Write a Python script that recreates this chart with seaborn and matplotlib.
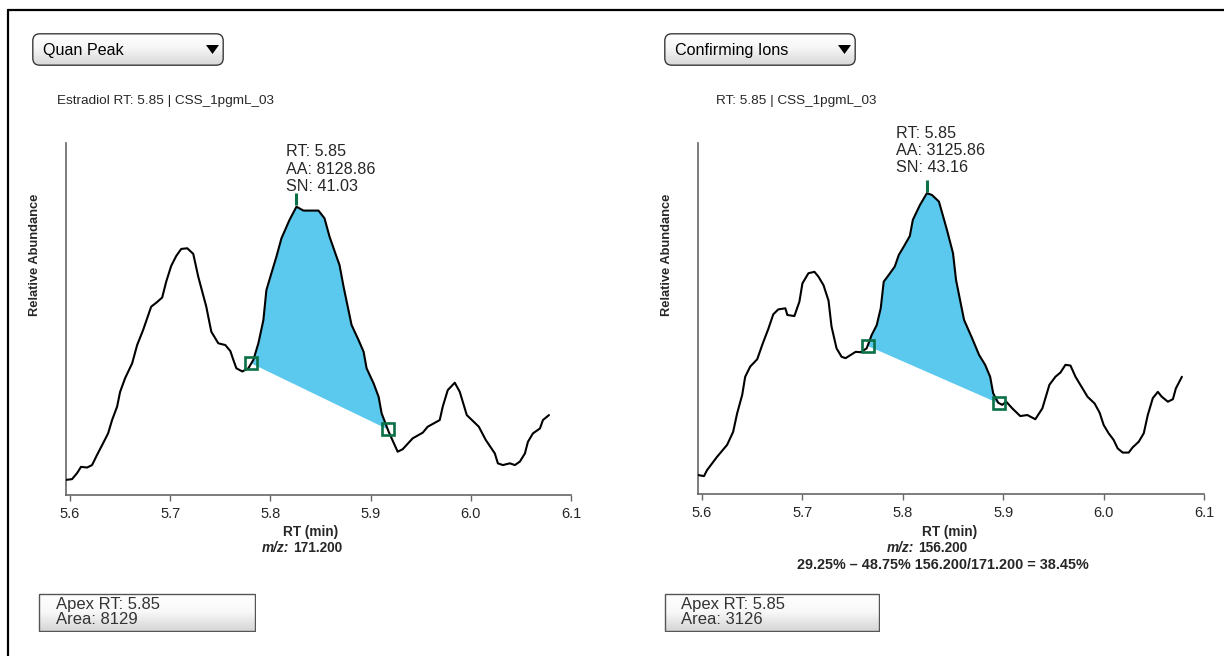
import numpy as np
import matplotlib
matplotlib.use("Agg")
import matplotlib.pyplot as plt
import seaborn as sns
import pandas as pd
from matplotlib.patches import FancyBboxPatch, Rectangle, Polygon
from matplotlib.lines import Line2D
from matplotlib.colors import LinearSegmentedColormap

# ---------------- data ----------------
quan_rt = [5.596, 5.602, 5.607, 5.611, 5.617, 5.622, 5.627, 5.633, 5.638, 5.642,
           5.647, 5.650, 5.655, 5.662, 5.667, 5.673, 5.681, 5.686, 5.692, 5.696,
           5.701, 5.706, 5.711, 5.717, 5.723, 5.728, 5.736, 5.741, 5.748, 5.755,
           5.760, 5.763, 5.766, 5.772, 5.778, 5.783, 5.788, 5.793, 5.796, 5.801,
           5.806, 5.811, 5.819, 5.826, 5.833, 5.848, 5.854, 5.859, 5.866, 5.869,
           5.873, 5.881, 5.888, 5.893, 5.896, 5.903, 5.908, 5.911, 5.918, 5.927,
           5.932, 5.942, 5.952, 5.957, 5.964, 5.969, 5.972, 5.977, 5.984, 5.989,
           5.996, 6.008, 6.015, 6.024, 6.027, 6.032, 6.039, 6.044, 6.049, 6.054,
           6.057, 6.062, 6.069, 6.072, 6.078]
quan_abund = [4.3, 4.5, 6.2, 8.0, 7.8, 8.5, 11.4, 14.7, 17.5, 21.3,
              25.1, 29.3, 33.2, 37.4, 42.6, 46.9, 53.5, 54.6, 56.1, 60.6,
              65.1, 67.9, 69.9, 70.1, 68.5, 62.0, 53.5, 46.4, 43.1, 42.6,
              40.9, 38.4, 36.0, 35.1, 36.0, 38.4, 43.1, 49.7, 58.2, 63.0,
              67.7, 72.9, 78.1, 81.9, 80.8, 80.8, 78.6, 73.4, 67.7, 65.3,
              59.2, 48.3, 44.0, 40.7, 36.0, 31.7, 27.9, 23.2, 18.0, 12.3,
              13.0, 16.1, 17.7, 19.4, 20.5, 21.3, 25.1, 29.8, 31.9, 29.3,
              22.7, 19.4, 15.6, 11.8, 9.0, 8.5, 9.0, 8.5, 9.5, 11.8,
              15.1, 17.5, 18.9, 21.3, 22.7]

conf_rt = [5.596, 5.602, 5.605, 5.610, 5.615, 5.620, 5.625, 5.631, 5.635, 5.640,
           5.643, 5.648, 5.655, 5.660, 5.666, 5.671, 5.676, 5.683, 5.685, 5.692,
           5.697, 5.700, 5.706, 5.712, 5.716, 5.721, 5.726, 5.729, 5.734, 5.739,
           5.743, 5.748, 5.753, 5.758, 5.764, 5.769, 5.774, 5.778, 5.781, 5.786,
           5.792, 5.796, 5.801, 5.807, 5.810, 5.817, 5.824, 5.829, 5.836, 5.844,
           5.850, 5.853, 5.861, 5.869, 5.876, 5.882, 5.887, 5.890, 5.895, 5.899,
           5.903, 5.909, 5.917, 5.924, 5.932, 5.939, 5.946, 5.952, 5.957, 5.962,
           5.967, 5.972, 5.984, 5.991, 5.996, 6.000, 6.005, 6.010, 6.014, 6.019,
           6.025, 6.029, 6.035, 6.040, 6.044, 6.049, 6.054, 6.058, 6.064, 6.069,
           6.072, 6.078]
conf_abund = [5.4, 5.1, 6.8, 8.7, 10.6, 12.3, 14.0, 17.7, 23.0, 28.2,
              33.4, 36.3, 38.4, 42.5, 47.0, 51.2, 52.6, 52.9, 51.0, 50.7,
              54.8, 60.0, 62.9, 63.3, 61.9, 59.5, 55.1, 47.7, 41.5, 39.1,
              38.7, 39.6, 40.5, 40.4, 41.5, 45.3, 48.1, 52.9, 60.5, 62.4,
              64.8, 68.1, 70.5, 73.5, 78.1, 82.3, 85.7, 85.2, 83.3, 75.2,
              68.6, 61.0, 49.6, 44.4, 39.6, 36.8, 33.4, 28.7, 26.0, 25.4,
              26.3, 24.4, 22.2, 22.5, 21.3, 24.4, 31.1, 33.4, 34.6, 36.8,
              36.6, 33.4, 27.7, 25.8, 23.2, 19.7, 17.3, 15.4, 13.0, 11.8,
              11.8, 13.3, 14.9, 17.3, 22.5, 27.3, 29.1, 27.7, 26.3, 27.0,
              30.1, 33.4]

peak_bounds = [(5.781, 5.917), (5.765, 5.896)]
x_ticks = [5.6, 5.7, 5.8, 5.9, 6.0, 6.1]
x_tick_labels = ["5.6", "5.7", "5.8", "5.9", "6.0", "6.1"]
dropdown_labels = ["Quan Peak", "Confirming Ions"]
subtitles = ["Estradiol RT: 5.85 | CSS_1pgmL_03", "RT: 5.85 | CSS_1pgmL_03"]
peak_rt_text = ["RT: 5.85", "RT: 5.85"]
peak_aa_text = ["AA: 8128.86", "AA: 3125.86"]
peak_sn_text = ["SN: 41.03", "SN: 43.16"]
mz_values = ["171.200", "156.200"]
ratio_text = "29.25% \u2013 48.75% 156.200/171.200 = 38.45%"
apex_texts = ["Apex RT: 5.85", "Apex RT: 5.85"]
area_texts = ["Area: 8129", "Area: 3126"]

# ---------------- style ----------------
sns.set_style("white")
plt.rcParams['font.family'] = ['Liberation Sans', 'DejaVu Sans']

W, H = 1224, 656
fig = plt.figure(figsize=(W / 100, H / 100), dpi=100)
fig.patch.set_facecolor('white')

FILL = '#5BC9EE'
GREEN = '#0B7045'
AXC = '#666666'


def fx(x):
    return x / W


def fy(y):
    return 1 - y / H


def gradient_box(x0, y0, x1, y1, rounding, stops, edge='#444444', lw=1.0):
    w, h = x1 - x0, y1 - y0
    bax = fig.add_axes([fx(x0), fy(y1), w / W, h / H])
    bax.set_xlim(0, w)
    bax.set_ylim(0, h)
    bax.axis('off')
    cmap = LinearSegmentedColormap.from_list('g', stops)
    grad = np.linspace(0, 1, 128).reshape(-1, 1)
    im = bax.imshow(grad, extent=[0, w, 0, h], origin='lower', aspect='auto',
                    cmap=cmap, vmin=0, vmax=1)
    if rounding > 0:
        patch = FancyBboxPatch((0.8, 0.8), w - 1.6, h - 1.6,
                               boxstyle=f"round,pad=0,rounding_size={rounding}",
                               fc='none', ec=edge, lw=lw)
    else:
        patch = Rectangle((0.6, 0.6), w - 1.2, h - 1.2, fc='none', ec=edge, lw=lw)
    bax.add_patch(patch)
    im.set_clip_path(patch)
    return bax, w, h


# outer frame (top and left lines)
fig.add_artist(Line2D([fx(8), fx(W)], [fy(9.5), fy(9.5)], color='black', lw=1.6))
fig.add_artist(Line2D([fx(8), fx(8)], [fy(9.5), fy(H)], color='black', lw=1.6))

panels = [
    dict(rt=quan_rt, ab=quan_abund, ax=[66, 571, 143, 495], btn=(32, 224), sub_x=57,
         ann_x=286, ann_y=152, ylab_x=35, xlab_c=311, mz_split=(289, 293), box=(38, 256),
         box_tx=56),
    dict(rt=conf_rt, ab=conf_abund, ax=[698, 1204, 143, 494], btn=(664, 856), sub_x=716,
         ann_x=896, ann_y=133, ylab_x=667, xlab_c=950, mz_split=(914, 918), box=(664, 880),
         box_tx=681),
]

for i, p in enumerate(panels):
    x0, x1, yt, yb = p['ax']
    ax = fig.add_axes([fx(x0), fy(yb), (x1 - x0) / W, (yb - yt) / H])
    rt = np.array(p['rt'])
    ab = np.array(p['ab'])
    df = pd.DataFrame({'RT': rt, 'Abundance': ab})

    # integrated peak area
    s, e = peak_bounds[i]
    inner = rt[(rt > s) & (rt < e)]
    xs = np.concatenate([[s], inner, [e]])
    ys_curve = np.interp(xs, rt, ab)
    ys_base = np.interp(xs, [s, e], [np.interp(s, rt, ab), np.interp(e, rt, ab)])
    ax.fill_between(xs, ys_base, ys_curve, color=FILL, lw=0, zorder=1)

    sns.lineplot(data=df, x='RT', y='Abundance', ax=ax, color='black', linewidth=1.5,
                 sort=False, estimator=None, zorder=3)

    # boundary markers
    ax.plot([s, e], [np.interp(s, rt, ab), np.interp(e, rt, ab)], ls='none', marker='s',
            markersize=9.2, markerfacecolor='none', markeredgecolor=GREEN,
            markeredgewidth=1.9, zorder=4)

    # apex tick
    apex_i = int(np.argmax(ab))
    ax.vlines(rt[apex_i], ab[apex_i] + 0.4, ab[apex_i] + 3.8, color=GREEN, lw=2.2, zorder=4)

    ax.set_xlim(5.596, 6.1)
    ax.set_ylim(0, 100)
    ax.set_xticks(x_ticks)
    ax.set_xticklabels(x_tick_labels)
    ax.set_yticks([])
    ax.set_xlabel('')
    ax.set_ylabel('')
    for sp in ['top', 'right']:
        ax.spines[sp].set_visible(False)
    for sp in ['left', 'bottom']:
        ax.spines[sp].set_color(AXC)
        ax.spines[sp].set_linewidth(1.2)
    ax.tick_params(axis='x', direction='out', length=4, width=1, color=AXC,
                   labelsize=10.5, pad=4.5, bottom=True)
    ax.patch.set_alpha(0)

    # dropdown button
    bx0, bx1 = p['btn']
    bax, bw, bh = gradient_box(bx0, 33, bx1, 66, 7,
                               [(0, '#d6d6d6'), (0.55, '#f6f6f6'), (1, '#ffffff')],
                               edge='#3a3a3a', lw=1.0)
    bax.text(11, bh / 2 - 1.5, dropdown_labels[i], fontsize=11.6, va='center', ha='left',
             color='black')
    bax.add_patch(Polygon([(bw - 18, 21), (bw - 5, 21), (bw - 11.5, 12)], closed=True,
                          fc='black', ec='none'))

    # subtitle
    fig.text(fx(p['sub_x']), fy(101), subtitles[i], fontsize=9.7, va='center', ha='left')

    # peak annotation
    for k, t in enumerate([peak_rt_text[i], peak_aa_text[i], peak_sn_text[i]]):
        fig.text(fx(p['ann_x']), fy(p['ann_y'] + 17.3 * k), t, fontsize=11.6,
                 va='center', ha='left')

    # axis labels
    fig.text(fx(p['ylab_x']), fy(255), 'Relative Abundance', rotation=90, fontsize=9.3,
             fontweight='bold', va='center', ha='center')
    fig.text(fx(p['xlab_c']), fy(532), 'RT (min)', fontsize=9.8, fontweight='bold',
             va='center', ha='center')
    mzl, mzr = p['mz_split']
    fig.text(fx(mzl), fy(548), 'm/z:', fontsize=9.8, fontweight='bold', fontstyle='italic',
             va='center', ha='right')
    fig.text(fx(mzr), fy(548), mz_values[i], fontsize=9.8, fontweight='bold',
             va='center', ha='left')
    if i == 1:
        fig.text(fx(943), fy(565), ratio_text, fontsize=10.4, fontweight='bold',
                 va='center', ha='center')

    # result box
    rx0, rx1 = p['box']
    rax, rw, rh = gradient_box(rx0, 593, rx1, 632, 0,
                               [(0, '#d4d4d4'), (0.5, '#f8f8f8'), (1, '#ffffff')],
                               edge='#555555', lw=1.0)
    fig.text(fx(p['box_tx']), fy(605), apex_texts[i], fontsize=12, va='center', ha='left',
             color='#333333')
    fig.text(fx(p['box_tx']), fy(620), area_texts[i], fontsize=12, va='center', ha='left',
             color='#333333')

fig.savefig('out.png', dpi=100)
